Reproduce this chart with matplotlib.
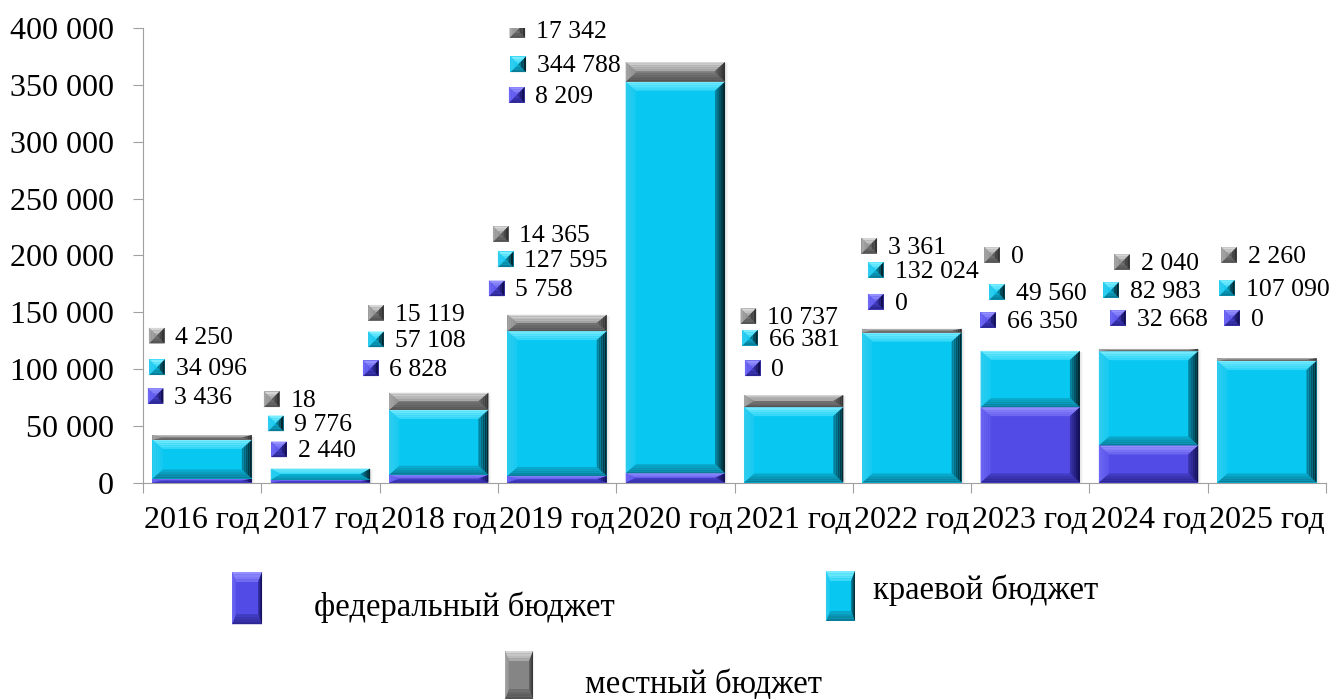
import numpy as np
import matplotlib
matplotlib.use('Agg')
import matplotlib.pyplot as plt
import matplotlib.ticker as tic
from matplotlib.patches import Polygon, Rectangle
from matplotlib.colors import to_rgb

plt.rcParams['font.family'] = ['Liberation Serif', 'DejaVu Serif']

### Data
years = ['2016 год', '2017 год', '2018 год', '2019 год', '2020 год',
         '2021 год', '2022 год', '2023 год', '2024 год', '2025 год']
federal = [3436, 2440, 6828, 5758, 8209, 0, 0, 66350, 32668, 0]
regional = [34096, 9776, 57108, 127595, 344788, 66381, 132024, 49560, 82983, 107090]
local = [4250, 18, 15119, 14365, 17342, 10737, 3361, 0, 2040, 2260]
series_names = ['федеральный бюджет', 'краевой бюджет', 'местный бюджет']
yticks = np.arange(0, 400001, 50000)

### Layout of the value labels (x offset from category centre, y in data units)
# order per year: местный, краевой, федеральный (top to bottom)
label_dx = [[-0.384, -0.382, -0.393], [-0.412, -0.378, -0.350], [-0.530, -0.530, -0.575],
            [-0.476, -0.434, -0.510], [-1.336, -1.328, -1.341], [-0.383, -0.369, -0.346],
            [-0.361, -0.306, -0.306], [-0.323, -0.281, -0.357], [-0.224, -0.317, -0.258],
            [-0.320, -0.337, -0.295]]
label_y = [[129300, 101500, 76200], [73300, 52100, 29200], [149500, 126100, 100600],
           [218800, 196600, 171000], [398500, 368300, 341300], [146500, 127400, 100600],
           [208500, 187100, 159200], [200400, 167800, 143100], [194200, 169500, 144900],
           [200400, 171300, 144900]]

### Styles: face, top, left, right, bottom bevel colours
styles = {
    'fed':   dict(face='#524BE6', top='#9590FF', left='#6E68F4', right='#120F55', bottom='#2C2792'),
    'reg':   dict(face='#08C8F2', top='#7AECFF', left='#30CDEF', right='#03262F', bottom='#0A7E98'),
    'loc':   dict(face='#858585', top='#D6D6D6', left='#A5A5A5', right='#333333', bottom='#555555'),
}


def mix(c1, c2, t):
    a, b = np.array(to_rgb(c1)), np.array(to_rgb(c2))
    return tuple(a * (1 - t) + b * t)


# draw a bevelled rectangle as a set of polygons (outer edge -> face gradient)
def bevel(add, tr, x0, y0, x1, y1, bx, by, st, n=5, z=3):
    bx = min(bx, (x1 - x0) / 2)
    by = min(by, (y1 - y0) / 2)
    add(Rectangle((x0, y0), x1 - x0, y1 - y0, facecolor=st['face'], edgecolor='none',
                  transform=tr, zorder=z))
    for k in range(n):
        f0, f1 = k / n, (k + 1) / n
        a = (x0 + bx * f0, y0 + by * f0, x1 - bx * f0, y1 - by * f0)
        b = (x0 + bx * f1, y0 + by * f1, x1 - bx * f1, y1 - by * f1)
        t = k / n * 0.7
        sides = {
            'top': [(a[0], a[3]), (a[2], a[3]), (b[2], b[3]), (b[0], b[3])],
            'bottom': [(a[0], a[1]), (a[2], a[1]), (b[2], b[1]), (b[0], b[1])],
            'left': [(a[0], a[1]), (b[0], b[1]), (b[0], b[3]), (a[0], a[3])],
            'right': [(a[2], a[1]), (b[2], b[1]), (b[2], b[3]), (a[2], a[3])],
        }
        for side, pts in sides.items():
            add(Polygon(pts, closed=True, facecolor=mix(st[side], st['face'], t),
                        edgecolor='none', transform=tr, zorder=z))


### Figure
fig = plt.figure(figsize=(13.35, 6.99), dpi=100)
ax = fig.add_axes([143 / 1335, 1 - 482.5 / 699, (1326 - 143) / 1335, 454.2 / 699])
ax.set_xlim(-0.5, 9.5)
ax.set_ylim(0, 400000)

x = np.arange(len(years))
w = 0.84
bars_f = ax.bar(x, federal, w, color='none')
bars_r = ax.bar(x, regional, w, bottom=federal, color='none')
bars_l = ax.bar(x, local, w, bottom=np.add(federal, regional), color='none')

# pixel -> data units
ux = 10 / (1183 / 10)
uy = 400000 / 454.2

# soft shadow on the right of each stack
for rect_f, rect_l in zip(bars_f, bars_l):
    top = rect_l.get_y() + rect_l.get_height()
    xr = rect_f.get_x() + rect_f.get_width()
    for i in range(1, 6):
        ax.add_patch(Rectangle((xr - ux * 0.2, 0), ux * 0.1 * i, top - uy * 1.5,
                               facecolor='#9a9a9a', alpha=0.08, edgecolor='none', zorder=2))

for bars, key in [(bars_f, 'fed'), (bars_r, 'reg'), (bars_l, 'loc')]:
    for r in bars:
        if r.get_height() <= 0:
            continue
        bevel(ax.add_patch, ax.transData, r.get_x(), r.get_y(), r.get_x() + r.get_width(),
              r.get_y() + r.get_height(), ux * 1.0, uy * 9, styles[key])

# value labels with small pyramid markers
msx = ux * 0.78
msy = uy * 7.8
for i in range(len(years)):
    vals = [local[i], regional[i], federal[i]]
    for j, key in enumerate(['loc', 'reg', 'fed']):
        mx = x[i] + label_dx[i][j]
        my = label_y[i][j]
        bevel(ax.add_patch, ax.transData, mx - msx, my - msy, mx + msx, my + msy,
              msx, msy, styles[key], n=3, z=6)
        ax.annotate(f'{vals[j]:,}'.replace(',', ' '), (mx, my), xytext=(13.5, -1.5),
                    textcoords='offset points', ha='left', va='center',
                    fontsize=18.5, zorder=7, annotation_clip=False)

# axes styling
for s in ['top', 'right']:
    ax.spines[s].set_visible(False)
for s in ['left', 'bottom']:
    ax.spines[s].set_color('#a0a0a0')
ax.set_yticks(yticks)
ax.yaxis.set_major_formatter(tic.FuncFormatter(lambda v, p: f'{int(v):,}'.replace(',', ' ')))
ax.tick_params(axis='y', length=7, color='#a0a0a0', labelsize=23, pad=14)
ax.set_xticks(np.arange(-0.5, 10, 1))
ax.set_xticklabels([])
ax.set_xticks(x, minor=True)
ax.set_xticklabels(years, minor=True)
ax.tick_params(axis='x', which='major', length=7, color='#a0a0a0')
ax.tick_params(axis='x', which='minor', length=0, labelsize=23, pad=17)

# legend (hand-made, bevelled keys)
legend_items = [
    ('fed', (0.1738, 0.107, 0.1963, 0.1817), (0.2352, 0.131)),
    ('reg', (0.6187, 0.1116, 0.6404, 0.1831), (0.654, 0.156)),
    ('loc', (0.3783, 0.0, 0.3993, 0.0687), (0.4382, 0.02)),
]
for (key, box, txt), name in zip(legend_items, series_names):
    bevel(fig.add_artist, fig.transFigure, box[0], box[1], box[2], box[3],
          4 / 1335, 10 / 699, styles[key], n=4)
    fig.text(txt[0], txt[1], name, fontsize=23.5, ha='left', va='center')

fig.savefig('out.png', dpi=100)
